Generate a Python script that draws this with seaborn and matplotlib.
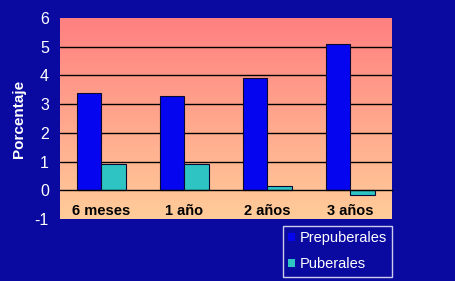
import numpy as np
import pandas as pd
import matplotlib
matplotlib.use("Agg")
import matplotlib.pyplot as plt
import seaborn as sns
from matplotlib.colors import LinearSegmentedColormap
from matplotlib.ticker import FixedLocator

categories = ["6 meses", "1 año", "2 años", "3 años"]
prepuberales = [3.4, 3.3, 3.9, 5.1]
puberales = [0.9, 0.9, 0.15, -0.15]
series_names = ["Prepuberales", "Puberales"]
y_ticks = [-1, 0, 1, 2, 3, 4, 5, 6]

df = pd.DataFrame({
    "cat": categories * 2,
    "val": prepuberales + puberales,
    "serie": [series_names[0]] * 4 + [series_names[1]] * 4,
})

sns.set_theme(style="white")
plt.rcParams["font.family"] = ["Liberation Sans", "DejaVu Sans"]

bg = "#0A0AA0"
fig = plt.figure(figsize=(4.56, 2.81), dpi=100, facecolor=bg)
ax = fig.add_axes([60/456, 1 - 219/281, (392-60)/456, (219-18)/281])

palette = {"Prepuberales": "#0505F0", "Puberales": "#2EC4C4"}
sns.barplot(data=df, x="cat", y="val", hue="serie", palette=palette,
            saturation=1, width=0.58, edgecolor="#0A0A30", linewidth=0.8,
            ax=ax, zorder=3, legend=True)

ax.set_ylim(-1, 6)
ax.set_xlim(-0.5, 3.5)

# gradient background
cmap = LinearSegmentedColormap.from_list("g", ["#FFCC99", "#FF8080"])
grad = np.linspace(0, 1, 256).reshape(-1, 1)
ax.imshow(grad, aspect="auto", cmap=cmap, origin="lower",
          extent=[-0.5, 3.5, -1, 6], zorder=0)

for yv in [1, 2, 3, 4, 5]:
    ax.axhline(yv, color="black", linewidth=1, zorder=1)

for s in ["top", "right", "left"]:
    ax.spines[s].set_visible(False)
ax.spines["bottom"].set_position(("data", 0))
ax.spines["bottom"].set_color("black")
ax.spines["bottom"].set_linewidth(1)
ax.spines["bottom"].set_zorder(4)

ax.set_yticks(y_ticks)
ax.set_yticklabels([str(v) for v in y_ticks], color="white", fontsize=11.5)
ax.tick_params(axis="y", length=0, pad=8)

ax.set_xticks(range(len(categories)))
ax.set_xticklabels(categories, fontsize=10.5, fontweight="bold", color="black")
ax.tick_params(axis="x", which="major", length=0, pad=10)
ax.xaxis.set_minor_locator(FixedLocator([0.5, 1.5, 2.5, 3.5]))
ax.tick_params(axis="x", which="minor", length=4, width=1, color="black", direction="out")

ax.set_xlabel("")
ax.set_ylabel("Porcentaje", color="white", fontsize=11, fontweight="bold", labelpad=6)
ax.grid(False)

leg = ax.legend(loc="upper left", bbox_to_anchor=(283/456, 1 - 226/281),
                bbox_transform=fig.transFigure, frameon=True, fontsize=10.5,
                handlelength=0.5, handleheight=0.5, handletextpad=0.3,
                borderpad=0.35, labelspacing=0.85, borderaxespad=0,
                fancybox=False)
leg.get_frame().set_facecolor(bg)
leg.get_frame().set_edgecolor("white")
leg.get_frame().set_linewidth(1)
for t in leg.get_texts():
    t.set_color("white")
for h in leg.legend_handles:
    h.set_linewidth(0)

fig.savefig("out.png", dpi=100, facecolor=bg)
